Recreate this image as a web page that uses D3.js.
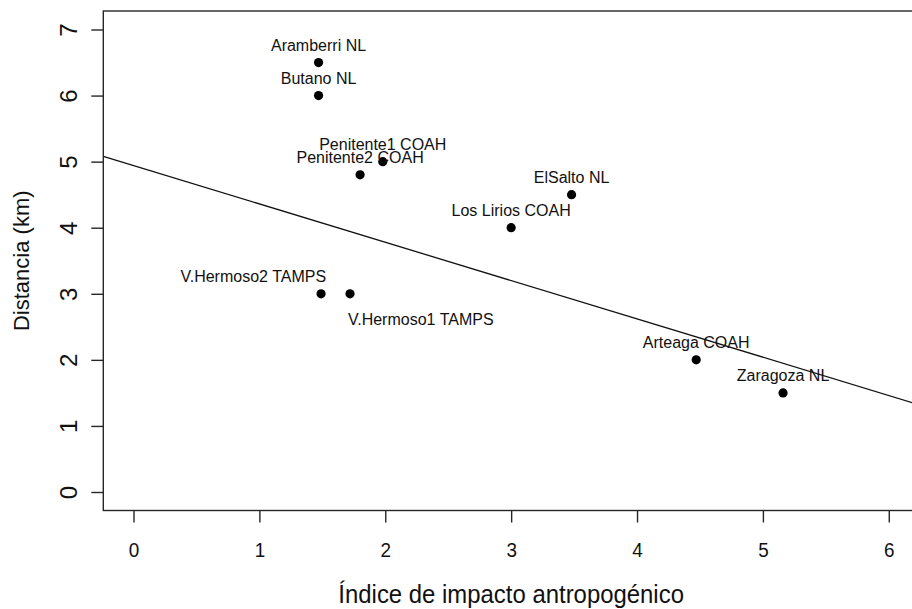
<!DOCTYPE html>
<html lang="es">
<head>
  <meta charset="UTF-8">
  <title>Distancia vs impacto antropogénico</title>
  <script src="https://d3js.org/d3.v7.min.js"></script>
  <style>
    body {
      margin: 0;
      padding: 0;
      background: #fff;
    }
    svg {
      display: block;
      font-family: "Liberation Sans", Arial, sans-serif;
    }
    .tick line, .frame {
      stroke: #262626;
      stroke-width: 1.4;
    }
  </style>
</head>
<body>
  <svg id="chart" width="912" height="609"></svg>

  <script>
    // sitios y valores
    const sites = ["Aramberri NL", "Butano NL", "Penitente1 COAH", "Penitente2 COAH",
      "ElSalto NL", "Los Lirios COAH", "V.Hermoso2 TAMPS", "V.Hermoso1 TAMPS",
      "Arteaga COAH", "Zaragoza NL"];
    const impacto = [1.47, 1.47, 1.98, 1.80, 3.48, 3.00, 1.49, 1.72, 4.47, 5.16];
    const distancia = [6.5, 6.0, 5.0, 4.8, 4.5, 4.0, 3.0, 3.0, 2.0, 1.5];
    // posicion de la etiqueta (como pos en text() de R)
    const labelPos = ["above", "above", "above", "above", "above", "above",
      "aboveLeft", "belowRight", "above", "above"];

    const xTicks = [0, 1, 2, 3, 4, 5, 6];
    const yTicks = [0, 1, 2, 3, 4, 5, 6, 7];
    const xLim = [0, 6];
    const yLim = [0, 7];

    // recta de regresion (abline)
    const intercept = 4.94;
    const slope = -0.58;

    // R extiende los limites un 4%
    const xPad = (xLim[1] - xLim[0]) * 0.04;
    const yPad = (yLim[1] - yLim[0]) * 0.04;

    const x = d3.scaleLinear()
      .domain([xLim[0] - xPad, xLim[1] + xPad])
      .range([103.3, 919]);

    const y = d3.scaleLinear()
      .domain([yLim[0] - yPad, yLim[1] + yPad])
      .range([510.5, 11]);

    const svg = d3.select("#chart");

    const data = sites.map((s, i) => ({
      site: s, x: impacto[i], y: distancia[i], pos: labelPos[i]
    }));

    // linea
    const x0 = x.domain()[0], x1 = x.domain()[1];
    svg.append("defs").append("clipPath").attr("id", "plotClip")
      .append("rect")
      .attr("x", x.range()[0]).attr("y", y.range()[1])
      .attr("width", x.range()[1] - x.range()[0])
      .attr("height", y.range()[0] - y.range()[1]);

    svg.append("line")
      .attr("clip-path", "url(#plotClip)")
      .attr("x1", x(x0)).attr("y1", y(intercept + slope * x0))
      .attr("x2", x(x1)).attr("y2", y(intercept + slope * x1))
      .attr("stroke", "#111")
      .attr("stroke-width", 1.3);

    // puntos
    svg.selectAll(".pt")
      .data(data)
      .enter().append("circle")
      .attr("class", "pt")
      .attr("cx", d => x(d.x))
      .attr("cy", d => y(d.y))
      .attr("r", 4.6)
      .attr("fill", "#000");

    // etiquetas
    svg.selectAll(".lbl")
      .data(data)
      .enter().append("text")
      .attr("class", "lbl")
      .attr("x", d => {
        if (d.pos === "aboveLeft") return x(d.x) + 5;
        if (d.pos === "belowRight") return x(d.x) - 2;
        return x(d.x);
      })
      .attr("y", d => d.pos === "belowRight" ? y(d.y) + 31 : y(d.y) - 11.5)
      .attr("text-anchor", d => d.pos === "aboveLeft" ? "end" : (d.pos === "belowRight" ? "start" : "middle"))
      .attr("font-size", 16)
      .attr("fill", "#111")
      .text(d => d.site);

    // ejes
    const xAxis = svg.append("g")
      .attr("transform", `translate(0,${y.range()[0]})`)
      .call(d3.axisBottom(x).tickValues(xTicks).tickFormat(d3.format("d"))
        .tickSize(12).tickSizeOuter(0).tickPadding(20));
    xAxis.select(".domain").remove();
    xAxis.selectAll("text")
      .attr("font-size", 21)
      .attr("transform", "scale(0.9,1)")
      .attr("font-family", "Liberation Sans, Arial, sans-serif")
      .attr("fill", "#111");

    const yAxis = svg.append("g")
      .attr("transform", `translate(${x.range()[0]},0)`)
      .call(d3.axisLeft(y).tickValues(yTicks).tickFormat(d3.format("d"))
        .tickSize(12).tickSizeOuter(0));
    yAxis.select(".domain").remove();
    yAxis.selectAll("text")
      .attr("x", null).attr("dy", null)
      .attr("transform", "translate(-26,0) rotate(-90)")
      .attr("text-anchor", "middle")
      .attr("font-size", 24)
      .attr("font-family", "Liberation Sans, Arial, sans-serif")
      .attr("fill", "#111");

    // marco
    svg.append("rect")
      .attr("class", "frame")
      .attr("x", x.range()[0])
      .attr("y", y.range()[1])
      .attr("width", x.range()[1] - x.range()[0])
      .attr("height", y.range()[0] - y.range()[1])
      .attr("fill", "none");

    // titulos
    svg.append("text")
      .attr("transform", `translate(${(x.range()[0] + x.range()[1]) / 2},603) scale(0.92,1)`)
      .attr("text-anchor", "middle")
      .attr("font-size", 26)
      .attr("fill", "#111")
      .text("Índice de impacto antropogénico");

    svg.append("text")
      .attr("transform", `translate(29,${(y.range()[0] + y.range()[1]) / 2}) rotate(-90)`)
      .attr("text-anchor", "middle")
      .attr("font-size", 22)
      .attr("fill", "#111")
      .text("Distancia (km)");
  </script>
</body>
</html>
